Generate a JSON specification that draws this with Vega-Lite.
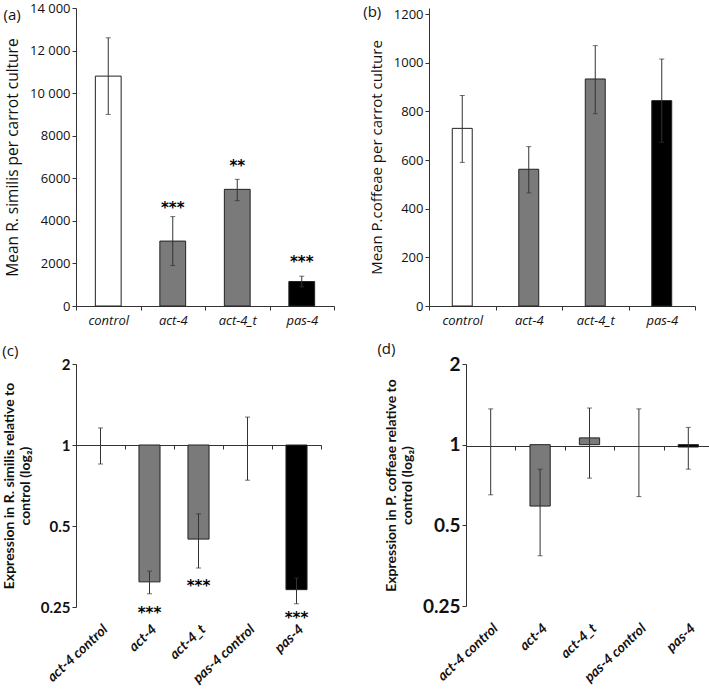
{
  "$schema": "https://vega.github.io/schema/vega-lite/v6.json",
  "padding": {"left": 2, "top": 2, "right": 0, "bottom": 0},
  "background": "white",
  "config": {
    "view": {"stroke": null},
    "font": "Open Sans",
    "axis": {"grid": false, "domainColor": "#333", "tickColor": "#333", "labelColor": "#111", "titleColor": "#111", "labelFont": "Open Sans", "titleFont": "Open Sans", "tickSize": 4},
    "title": {"font": "Open Sans", "fontWeight": "normal", "color": "#111"}
  },
  "datasets": {
    "a": [
      {"g": "control", "v": 10800, "lo": 9000, "hi": 12600, "s": "", "sy": 0},
      {"g": "act-4", "v": 3050, "lo": 1900, "hi": 4200, "s": "***", "sy": 4600},
      {"g": "act-4_t", "v": 5480, "lo": 4950, "hi": 5950, "s": "**", "sy": 6600},
      {"g": "pas-4", "v": 1150, "lo": 900, "hi": 1400, "s": "***", "sy": 2080}
    ],
    "b": [
      {"g": "control", "v": 730, "lo": 590, "hi": 865},
      {"g": "act-4", "v": 562, "lo": 465, "hi": 655},
      {"g": "act-4_t", "v": 933, "lo": 790, "hi": 1070},
      {"g": "pas-4", "v": 844, "lo": 673, "hi": 1015}
    ],
    "c": [
      {"g": "act-4 control", "k": "control", "v": 1, "lo": 0.85, "hi": 1.157, "s": "", "sy": 1},
      {"g": "act-4", "k": "act-4", "v": 0.31, "lo": 0.28, "hi": 0.34, "s": "***", "sy": 0.238},
      {"g": "act-4_t", "k": "act-4_t", "v": 0.447, "lo": 0.349, "hi": 0.555, "s": "***", "sy": 0.3},
      {"g": "pas-4 control", "k": "control", "v": 1, "lo": 0.74, "hi": 1.27, "s": "", "sy": 1},
      {"g": "pas-4", "k": "pas-4", "v": 0.29, "lo": 0.257, "hi": 0.32, "s": "***", "sy": 0.227}
    ],
    "d": [
      {"g": "act-4 control", "k": "control", "v": 1, "lo": 0.65, "hi": 1.36},
      {"g": "act-4", "k": "act-4", "v": 0.59, "lo": 0.385, "hi": 0.81},
      {"g": "act-4_t", "k": "act-4_t", "v": 1.06, "lo": 0.75, "hi": 1.37},
      {"g": "pas-4 control", "k": "control", "v": 1, "lo": 0.64, "hi": 1.36},
      {"g": "pas-4", "k": "pas-4", "v": 0.98, "lo": 0.81, "hi": 1.16}
    ]
  },
  "spacing": 15,
  "vconcat": [
    {
      "spacing": 28,
      "hconcat": [
        {
          "width": 258, "height": 298,
          "title": {"text": "(a)", "anchor": "start", "frame": "bounds", "offset": -21, "fontSize": 15, "dx": -2},
          "data": {"name": "a"},
          "encoding": {
            "x": {"field": "g", "type": "nominal", "sort": null, "scale": {"domain": ["control", "act-4", "act-4_t", "pas-4"], "paddingInner": 0, "paddingOuter": 0},
              "axis": {"title": null, "labelAngle": 0, "tickBand": "extent", "labelFontStyle": "italic", "labelFontSize": 13, "labelPadding": 4}}
          },
          "layer": [
            {"mark": {"type": "bar", "stroke": "#222", "strokeWidth": 1, "width": {"band": 0.4}},
              "encoding": {
                "y": {"field": "v", "type": "quantitative", "scale": {"domain": [0, 14000]},
                  "axis": {"title": "Mean R. similis per carrot culture", "values": [0, 2000, 4000, 6000, 8000, 10000, 12000, 14000], "labelExpr": "datum.value >= 10000 ? replace(format(datum.value, ','), ',', ' ') : format(datum.value, 'd')", "labelFontSize": 13, "titleFontSize": 15.5, "titleFontWeight": "normal", "titlePadding": 9}},
                "fill": {"field": "g", "type": "nominal", "scale": {"domain": ["control", "act-4", "act-4_t", "pas-4"], "range": ["#ffffff", "#7a7a7a", "#7a7a7a", "#000000"]}, "legend": null}
              }},
            {"mark": {"type": "rule", "color": "#333", "strokeWidth": 1},
              "encoding": {"y": {"field": "lo", "type": "quantitative", "axis": {"title": "Mean R. similis per carrot culture"}}, "y2": {"field": "hi"}}},
            {"mark": {"type": "tick", "color": "#333", "size": 5, "thickness": 1},
              "encoding": {"y": {"field": "lo", "type": "quantitative", "axis": {"title": "Mean R. similis per carrot culture"}}}},
            {"mark": {"type": "tick", "color": "#333", "size": 5, "thickness": 1},
              "encoding": {"y": {"field": "hi", "type": "quantitative", "axis": {"title": "Mean R. similis per carrot culture"}}}},
            {"transform": [{"filter": "datum.s != ''"}],
              "mark": {"type": "text", "fontSize": 15, "fontWeight": "bold", "baseline": "middle", "font": "DejaVu Sans"},
              "encoding": {"y": {"field": "sy", "type": "quantitative", "axis": {"title": "Mean R. similis per carrot culture"}}, "text": {"field": "s"}}}
          ]
        },
        {
          "width": 266, "height": 298,
          "title": {"text": "(b)", "anchor": "start", "frame": "bounds", "offset": -12, "fontSize": 15, "dx": -6},
          "data": {"name": "b"},
          "encoding": {
            "x": {"field": "g", "type": "nominal", "sort": null, "scale": {"domain": ["control", "act-4", "act-4_t", "pas-4"], "paddingInner": 0, "paddingOuter": 0},
              "axis": {"title": null, "labelAngle": 0, "tickBand": "extent", "labelFontStyle": "italic", "labelFontSize": 13, "labelPadding": 4}}
          },
          "layer": [
            {"mark": {"type": "bar", "stroke": "#222", "strokeWidth": 1, "width": {"band": 0.3}},
              "encoding": {
                "y": {"field": "v", "type": "quantitative", "scale": {"domain": [0, 1224.7], "nice": false},
                  "axis": {"title": "Mean P.coffeae per carrot culture", "values": [0, 200, 400, 600, 800, 1000, 1200], "format": "d", "labelFontSize": 13, "titleFontSize": 15, "titleFontWeight": "normal", "titlePadding": 9}},
                "fill": {"field": "g", "type": "nominal", "scale": {"domain": ["control", "act-4", "act-4_t", "pas-4"], "range": ["#ffffff", "#7a7a7a", "#7a7a7a", "#000000"]}, "legend": null}
              }},
            {"mark": {"type": "rule", "color": "#333", "strokeWidth": 1},
              "encoding": {"y": {"field": "lo", "type": "quantitative", "axis": {"title": "Mean P.coffeae per carrot culture"}}, "y2": {"field": "hi"}}},
            {"mark": {"type": "tick", "color": "#333", "size": 5, "thickness": 1},
              "encoding": {"y": {"field": "lo", "type": "quantitative", "axis": {"title": "Mean P.coffeae per carrot culture"}}}},
            {"mark": {"type": "tick", "color": "#333", "size": 5, "thickness": 1},
              "encoding": {"y": {"field": "hi", "type": "quantitative", "axis": {"title": "Mean P.coffeae per carrot culture"}}}}
          ]
        }
      ]
    },
    {
      "spacing": 55,
      "hconcat": [
        {
          "width": 245, "height": 243,
          "title": {"text": "(c)", "anchor": "start", "frame": "bounds", "offset": -2, "fontSize": 15, "dx": 0},
          "data": {"name": "c"},
          "encoding": {
            "x": {"field": "g", "type": "nominal", "sort": null, "scale": {"domain": ["act-4 control", "act-4", "act-4_t", "pas-4 control", "pas-4"], "paddingInner": 0, "paddingOuter": 0},
              "axis": {"title": null, "labelAngle": -43, "tickBand": "extent", "offset": -162, "labelPadding": 173, "labelFont": "Lato", "labelFontStyle": "italic", "labelFontWeight": "bold", "labelFontSize": 14}}
          },
          "layer": [
            {"transform": [{"filter": "datum.v != 1"}],
              "mark": {"type": "bar", "stroke": "#222", "strokeWidth": 1, "width": {"band": 0.43}},
              "encoding": {
                "y": {"field": "v", "type": "quantitative", "scale": {"type": "log", "base": 2, "domain": [0.25, 2]},
                  "axis": {"title": ["Expression in R. similis relative to", "control (log₂)"], "values": [0.25, 0.5, 1, 2], "labelExpr": "datum.value == 0.25 ? '0.25' : datum.value == 0.5 ? '0.5' : format(datum.value, 'd')", "labelFont": "Lato", "labelFontWeight": "bold", "labelFontSize": 15, "titleFont": "Lato", "titleFontWeight": "bold", "titleFontSize": 14, "titlePadding": 8}},
                "y2": {"datum": 1},
                "fill": {"field": "k", "type": "nominal", "scale": {"domain": ["control", "act-4", "act-4_t", "pas-4"], "range": ["#ffffff", "#7a7a7a", "#7a7a7a", "#000000"]}, "legend": null}
              }},
            {"mark": {"type": "rule", "color": "#333", "strokeWidth": 1},
              "encoding": {"y": {"field": "lo", "type": "quantitative", "axis": {"title": ["Expression in R. similis relative to", "control (log₂)"]}}, "y2": {"field": "hi"}}},
            {"mark": {"type": "tick", "color": "#333", "size": 5, "thickness": 1},
              "encoding": {"y": {"field": "lo", "type": "quantitative", "axis": {"title": ["Expression in R. similis relative to", "control (log₂)"]}}}},
            {"mark": {"type": "tick", "color": "#333", "size": 5, "thickness": 1},
              "encoding": {"y": {"field": "hi", "type": "quantitative", "axis": {"title": ["Expression in R. similis relative to", "control (log₂)"]}}}},
            {"transform": [{"filter": "datum.s != ''"}],
              "mark": {"type": "text", "fontSize": 15, "fontWeight": "bold", "baseline": "middle", "font": "DejaVu Sans"},
              "encoding": {"y": {"field": "sy", "type": "quantitative", "axis": {"title": ["Expression in R. similis relative to", "control (log₂)"]}}, "text": {"field": "s"}}}
          ]
        },
        {
          "width": 247, "height": 242,
          "title": {"text": "(d)", "anchor": "start", "frame": "bounds", "offset": -2, "fontSize": 15, "dx": -7},
          "data": {"name": "d"},
          "encoding": {
            "x": {"field": "g", "type": "nominal", "sort": null, "scale": {"domain": ["act-4 control", "act-4", "act-4_t", "pas-4 control", "pas-4"], "paddingInner": 0, "paddingOuter": 0},
              "axis": {"title": null, "labelAngle": -43, "tickBand": "extent", "offset": -160, "labelPadding": 171, "labelFont": "Lato", "labelFontStyle": "italic", "labelFontWeight": "bold", "labelFontSize": 14}}
          },
          "layer": [
            {"transform": [{"filter": "datum.v != 1"}],
              "mark": {"type": "bar", "stroke": "#222", "strokeWidth": 1, "width": {"band": 0.41}},
              "encoding": {
                "y": {"field": "v", "type": "quantitative", "scale": {"type": "log", "base": 2, "domain": [0.25, 2]},
                  "axis": {"title": ["Expression in P. coffeae  relative to", "control (log₂)"], "values": [0.25, 0.5, 1, 2], "labelExpr": "datum.value == 0.25 ? '0.25' : datum.value == 0.5 ? '0.5' : format(datum.value, 'd')", "labelFont": "Lato", "labelFontWeight": "bold", "labelFontSize": 19, "titleFont": "Lato", "titleFontWeight": "bold", "titleFontSize": 14, "titlePadding": 8}},
                "y2": {"datum": 1},
                "fill": {"field": "k", "type": "nominal", "scale": {"domain": ["control", "act-4", "act-4_t", "pas-4"], "range": ["#ffffff", "#7a7a7a", "#7a7a7a", "#000000"]}, "legend": null}
              }},
            {"mark": {"type": "rule", "color": "#333", "strokeWidth": 1},
              "encoding": {"y": {"field": "lo", "type": "quantitative", "axis": {"title": ["Expression in P. coffeae  relative to", "control (log₂)"]}}, "y2": {"field": "hi"}}},
            {"mark": {"type": "tick", "color": "#333", "size": 5, "thickness": 1},
              "encoding": {"y": {"field": "lo", "type": "quantitative", "axis": {"title": ["Expression in P. coffeae  relative to", "control (log₂)"]}}}},
            {"mark": {"type": "tick", "color": "#333", "size": 5, "thickness": 1},
              "encoding": {"y": {"field": "hi", "type": "quantitative", "axis": {"title": ["Expression in P. coffeae  relative to", "control (log₂)"]}}}}
          ]
        }
      ]
    }
  ]
}
